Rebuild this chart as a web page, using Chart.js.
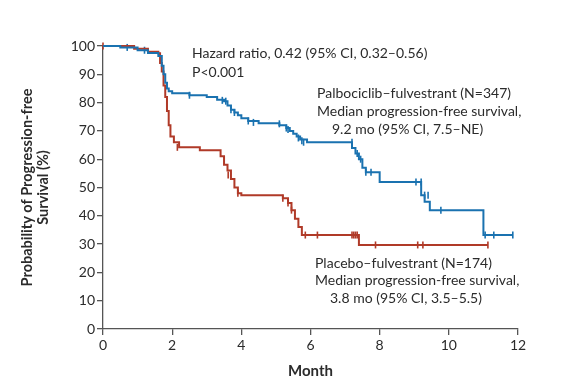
<!DOCTYPE html>
<html>
<head>
<meta charset="utf-8">
<script src="https://cdn.jsdelivr.net/npm/chart.js@4.4.1/dist/chart.umd.min.js"></script>
<style>
html, body { margin: 0; padding: 0; background: #fff; }
#wrap { width: 582px; height: 384px; }
</style>
</head>
<body>
<div id="wrap"><canvas id="km"></canvas></div>
<script>
// Kaplan-Meier steps (month, % progression-free)
var palboMonths = [0, 0.5, 1.0, 1.3, 1.6, 1.7, 1.75, 1.8, 1.85, 1.9, 2.0, 2.5, 3.0, 3.3, 3.5, 3.6, 3.7, 3.8, 3.9, 4.0, 4.2, 4.5, 5.1, 5.3, 5.4, 5.5, 5.6, 5.7, 5.9, 7.2, 7.3, 7.4, 7.5, 7.6, 8.0, 9.2, 9.3, 9.45, 11.0, 11.85];
var palboSurv = [100, 99.5, 98.5, 97.5, 96.5, 93, 90, 87, 85, 84, 83.3, 82.6, 82, 81, 80.5, 79, 77.5, 76.5, 75.5, 74.5, 73.5, 72.7, 72, 71, 70, 69, 68, 67, 66, 64, 62, 60, 57, 55.4, 51.9, 47.3, 45, 42, 33.2, 33.2];
var palboCensorMonths = [0.7, 1.2, 2.5, 3.45, 3.55, 3.7, 3.8, 4.2, 4.35, 5.1, 5.3, 5.35, 5.65, 5.75, 5.8, 7.2, 7.35, 7.45, 7.6, 7.75, 9.05, 9.2, 9.3, 9.4, 9.77, 11.05, 11.3, 11.85];
var palboCensorSurv = [99.5, 98.5, 82.6, 80.8, 80.5, 77.5, 76.5, 73.5, 73, 72.5, 71, 70.5, 67.5, 66.5, 66, 66, 62, 60, 55.4, 55.4, 51.9, 51.9, 47.3, 47.3, 42, 33.2, 33.2, 33.2];

var placeboMonths = [0, 0.9, 1.3, 1.6, 1.65, 1.7, 1.75, 1.8, 1.85, 1.9, 1.95, 2.05, 2.2, 2.8, 3.4, 3.5, 3.6, 3.7, 3.8, 3.9, 4.0, 5.2, 5.35, 5.45, 5.55, 5.65, 5.75, 7.4, 11.13];
var placeboSurv = [100, 99, 98, 97.4, 94, 91, 86, 82, 77, 72, 68, 66, 64.2, 63.2, 61, 58, 56, 53, 50, 48, 47.3, 46.2, 44.5, 42, 39, 36, 33.2, 29.7, 29.7];
var placeboCensorMonths = [0, 2.15, 3.62, 3.9, 5.2, 5.35, 5.45, 5.85, 6.2, 7.2, 7.25, 7.3, 7.35, 7.88, 9.1, 9.25, 11.13];
var placeboCensorSurv = [100, 64.2, 54.4, 48, 46.2, 44.5, 42, 33.2, 33.2, 33.2, 33.2, 33.2, 33.2, 29.7, 29.7, 29.7, 29.7];

var xTicks = [0, 2, 4, 6, 8, 10, 12];
var yTicks = [0, 10, 20, 30, 40, 50, 60, 70, 80, 90, 100];

var BLUE = '#1a72b0';
var RED = '#b03a28';
var INK = '#2b2b2b';
var FONT = 'Lato, "Noto Sans", sans-serif';

function pts(xs, ys) {
  return xs.map(function (x, i) { return { x: x, y: ys[i] }; });
}

// free text blocks next to the curves
var notes = [
  { x: 192, y: 53, lines: ['Hazard ratio, 0.42 (95% CI, 0.32\u20130.56)', 'P<0.001'], indent: [0, 0], lh: 19 },
  { x: 317, y: 93, lines: ['Palbociclib\u2013fulvestrant (N=347)', 'Median progression-free survival,', '9.2 mo (95% CI, 7.5\u2013NE)'], indent: [0, 0, 15], lh: 18 },
  { x: 315, y: 263, lines: ['Placebo\u2013fulvestrant (N=174)', 'Median progression-free survival,', '3.8 mo (95% CI, 3.5\u20135.5)'], indent: [0, 0, 15], lh: 17.5 }
];

var notesPlugin = {
  id: 'notes',
  afterDraw: function (chart) {
    var ctx = chart.ctx;
    ctx.save();
    ctx.fillStyle = INK;
    ctx.font = '14px ' + FONT;
    ctx.textBaseline = 'middle';
    ctx.textAlign = 'left';
    notes.forEach(function (n) {
      n.lines.forEach(function (t, i) {
        ctx.fillText(t, n.x + n.indent[i], n.y + i * n.lh);
      });
    });
    ctx.restore();
  }
};

var tickFont = { family: FONT, size: 14 };

var config = {
  type: 'line',
  data: {
    datasets: [{
      label: 'Palbociclib\u2013fulvestrant',
      data: pts(palboMonths, palboSurv),
      borderColor: BLUE,
      borderWidth: 2,
      stepped: 'before',
      pointRadius: 0,
      clip: false
    }, {
      label: 'Placebo\u2013fulvestrant',
      data: pts(placeboMonths, placeboSurv),
      borderColor: RED,
      borderWidth: 2,
      stepped: 'before',
      pointRadius: 0,
      clip: false
    }, {
      label: 'Palbociclib censored',
      data: pts(palboCensorMonths, palboCensorSurv),
      showLine: false,
      pointStyle: 'line',
      rotation: 90,
      pointRadius: 3.5,
      borderColor: BLUE,
      borderWidth: 1.6,
      clip: false
    }, {
      label: 'Placebo censored',
      data: pts(placeboCensorMonths, placeboCensorSurv),
      showLine: false,
      pointStyle: 'line',
      rotation: 90,
      pointRadius: 3.5,
      borderColor: RED,
      borderWidth: 1.6,
      clip: false
    }]
  },
  options: {
    responsive: true,
    maintainAspectRatio: false,
    animation: false,
    devicePixelRatio: 1,
    layout: { padding: { top: 46, right: 64, left: 0, bottom: 0 } },
    plugins: { legend: { display: false }, tooltip: { enabled: false } },
    scales: {
      x: {
        type: 'linear',
        min: 0,
        max: 12,
        afterBuildTicks: function (s) { s.ticks = xTicks.map(function (v) { return { value: v }; }); },
        afterFit: function (s) { s.height = 55; },
        ticks: { font: tickFont, color: INK, padding: 2, maxRotation: 0 },
        grid: { drawOnChartArea: false, tickLength: 6, color: '#555', lineWidth: 1.3 },
        border: { color: '#555', width: 1.3 },
        title: { display: true, text: 'Month', color: INK, font: { family: FONT, size: 15, weight: 'bold' }, padding: { top: 4 } }
      },
      y: {
        min: 0,
        max: 100,
        afterBuildTicks: function (s) { s.ticks = yTicks.map(function (v) { return { value: v }; }); },
        afterFit: function (s) { s.width = 103; },
        ticks: { font: tickFont, color: INK, padding: 2 },
        grid: { drawOnChartArea: false, tickLength: 6, color: '#555', lineWidth: 1.3 },
        border: { color: '#555', width: 1.3 },
        title: { display: true, text: ['Probability of Progression-free', 'Survival (%)'], color: INK, font: { family: FONT, size: 14.5, weight: 'bold', lineHeight: 1.05 }, padding: { top: 20 } }
      }
    }
  },
  plugins: [notesPlugin]
};

var myChart = new Chart(document.getElementById('km'), config);
</script>
</body>
</html>
